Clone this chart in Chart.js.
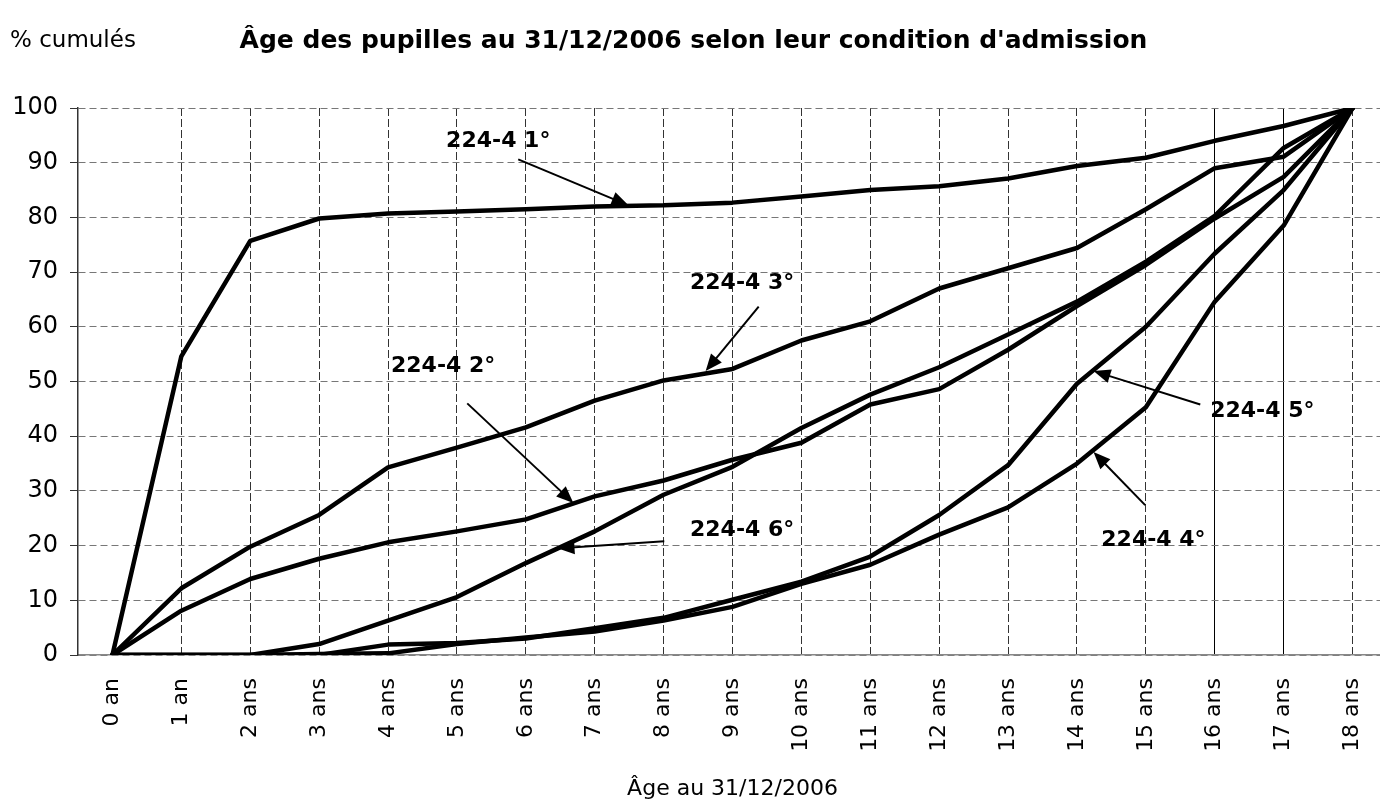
<!DOCTYPE html>
<html lang="fr">
<head>
<meta charset="utf-8">
<title>Âge des pupilles au 31/12/2006 selon leur condition d'admission</title>
<script src="https://cdn.jsdelivr.net/npm/chart.js@4/dist/chart.umd.min.js"></script>
<style>
  html, body { margin: 0; padding: 0; background: #fff; overflow: hidden; }
  #wrap { position: relative; width: 1410px; height: 807px; }
</style>
</head>
<body>
<div id="wrap"><canvas id="chart"></canvas></div>
<script>
const ages = ["0 an", "1 an", "2 ans", "3 ans", "4 ans", "5 ans", "6 ans", "7 ans", "8 ans", "9 ans",
  "10 ans", "11 ans", "12 ans", "13 ans", "14 ans", "15 ans", "16 ans", "17 ans", "18 ans"];

// % cumulés par condition d'admission (art. 224-4)
const cond1 = [0, 54.6, 75.7, 79.8, 80.7, 81.1, 81.5, 82.0, 82.2, 82.7, 83.8, 85.0, 85.7, 87.1, 89.4, 90.9, 94.0, 96.7, 100];
const cond2 = [0, 8.1, 13.9, 17.6, 20.6, 22.6, 24.8, 29.0, 31.9, 35.7, 38.8, 45.8, 48.6, 55.8, 63.8, 71.3, 79.8, 87.4, 100];
const cond3 = [0, 12.2, 19.8, 25.6, 34.3, 37.9, 41.6, 46.5, 50.2, 52.3, 57.5, 61.0, 67.0, 70.7, 74.4, 81.5, 89.0, 91.1, 100];
const cond4 = [0, 0, 0, 0.2, 0.3, 2.0, 3.2, 4.3, 6.3, 8.8, 13.0, 16.5, 22.0, 27.0, 35.0, 45.3, 64.6, 78.5, 100];
const cond5 = [0, 0, 0, 0, 1.9, 2.2, 3.0, 4.9, 6.8, 10.1, 13.4, 18.0, 25.6, 34.7, 49.6, 60.0, 73.4, 85.0, 100];
const cond6 = [0, 0, 0, 2.0, 6.3, 10.6, 16.8, 22.6, 29.3, 34.4, 41.5, 47.6, 52.6, 58.6, 64.6, 71.9, 80.3, 92.7, 100];

// étiquettes fléchées : centre du texte, départ et pointe de la flèche (unités des axes)
const etiquettes = [
  { texte: "224-4 1°", x: 5.60, y: 94.0, de: [5.89, 90.6], vers: [7.49, 82.2] },
  { texte: "224-4 3°", x: 9.14, y: 67.9, de: [9.38, 63.7], vers: [8.61, 51.9] },
  { texte: "224-4 2°", x: 4.80, y: 52.8, de: [5.15, 46.0], vers: [6.69, 27.8] },
  { texte: "224-4 6°", x: 9.14, y: 22.8, de: [8.01, 20.8], vers: [6.46, 19.5] },
  { texte: "224-4 5°", x: 16.69, y: 44.5, de: [15.79, 45.8], vers: [14.24, 51.9] },
  { texte: "224-4 4°", x: 15.11, y: 21.0, de: [14.99, 27.4], vers: [14.24, 37.1] },
];

const FONT = "'Comic Sans MS', 'DejaVu Sans', sans-serif";

const series = [cond1, cond2, cond3, cond4, cond5, cond6];
const names = ["224-4 1°", "224-4 2°", "224-4 3°", "224-4 4°", "224-4 5°", "224-4 6°"];

const annotations = {
  id: "annotations",
  afterDatasetsDraw(chart) {
    const { ctx, scales: { x, y } } = chart;
    ctx.save();
    ctx.fillStyle = "#000";
    ctx.strokeStyle = "#000";
    ctx.font = `bold 22px ${FONT}`;
    ctx.textAlign = "center";
    ctx.textBaseline = "middle";
    etiquettes.forEach((e) => {
      ctx.fillText(e.texte, x.getPixelForValue(e.x), y.getPixelForValue(e.y));
      const x1 = x.getPixelForValue(e.de[0]);
      const y1 = y.getPixelForValue(e.de[1]);
      const x2 = x.getPixelForValue(e.vers[0]);
      const y2 = y.getPixelForValue(e.vers[1]);
      const a = Math.atan2(y2 - y1, x2 - x1);
      const len = 17;
      const half = 7;
      ctx.lineWidth = 2;
      ctx.beginPath();
      ctx.moveTo(x1, y1);
      ctx.lineTo(x2 - Math.cos(a) * len * 0.8, y2 - Math.sin(a) * len * 0.8);
      ctx.stroke();
      ctx.beginPath();
      ctx.moveTo(x2, y2);
      ctx.lineTo(x2 - Math.cos(a) * len - Math.sin(a) * half, y2 - Math.sin(a) * len + Math.cos(a) * half);
      ctx.lineTo(x2 - Math.cos(a) * len + Math.sin(a) * half, y2 - Math.sin(a) * len - Math.cos(a) * half);
      ctx.closePath();
      ctx.fill();
    });
    // libellé de l'axe vertical
    ctx.font = `23px ${FONT}`;
    ctx.textAlign = "left";
    ctx.fillText("% cumulés", 10, 41);
    ctx.restore();
  },
};

new Chart(document.getElementById("chart"), {
  type: "line",
  data: {
    labels: ages,
    datasets: series.map((data, i) => ({
      label: names[i],
      data,
      borderColor: "#000",
      borderWidth: 4.5,
      borderJoinStyle: "round",
      borderCapStyle: "round",
      pointRadius: 0,
      tension: 0,
      fill: false,
    })),
  },
  options: {
    responsive: true,
    maintainAspectRatio: false,
    animation: false,
    layout: { padding: { left: 0, right: 23, top: 0, bottom: 0 } },
    plugins: {
      legend: { display: false },
      tooltip: { enabled: false },
      title: {
        display: true,
        text: "Âge des pupilles au 31/12/2006 selon leur condition d'admission",
        color: "#000",
        font: { family: FONT, size: 25, weight: "bold", lineHeight: 1.2 },
        padding: { top: 26, bottom: 52 },
      },
    },
    scales: {
      x: {
        offset: true,
        afterFit: (scale) => { scale.height = 152; },
        grid: {
          drawTicks: false,
          lineWidth: 1,
          color: (ctx) => {
            if (ctx.index === 0) return "rgba(0,0,0,0)";
            if (ctx.index === 16 || ctx.index === 17) return "#000";
            return "#333";
          },
        },
        border: {
          display: true,
          color: "#888",
          width: 1.5,
          dash: (ctx) => (ctx.index === 16 || ctx.index === 17 ? [] : [8, 3]),
        },
        ticks: {
          autoSkip: false,
          maxRotation: 90,
          minRotation: 90,
          padding: 23,
          color: "#000",
          font: { family: FONT, size: 22 },
        },
        title: {
          display: true,
          text: "Âge au 31/12/2006",
          color: "#000",
          font: { family: FONT, size: 22, lineHeight: 1.2 },
          padding: { top: 0, bottom: 5 },
        },
      },
      y: {
        min: 0,
        max: 100,
        afterFit: (scale) => { scale.width = 78; },
        ticks: {
          stepSize: 10,
          padding: 12,
          color: "#000",
          font: { family: FONT, size: 24 },
        },
        grid: {
          color: "#777",
          lineWidth: 1,
          tickLength: 8,
          tickColor: "#333",
        },
        border: {
          display: true,
          color: "#333",
          width: 1.5,
          dash: [7, 4],
        },
      },
    },
  },
  plugins: [annotations],
});
</script>
</body>
</html>
